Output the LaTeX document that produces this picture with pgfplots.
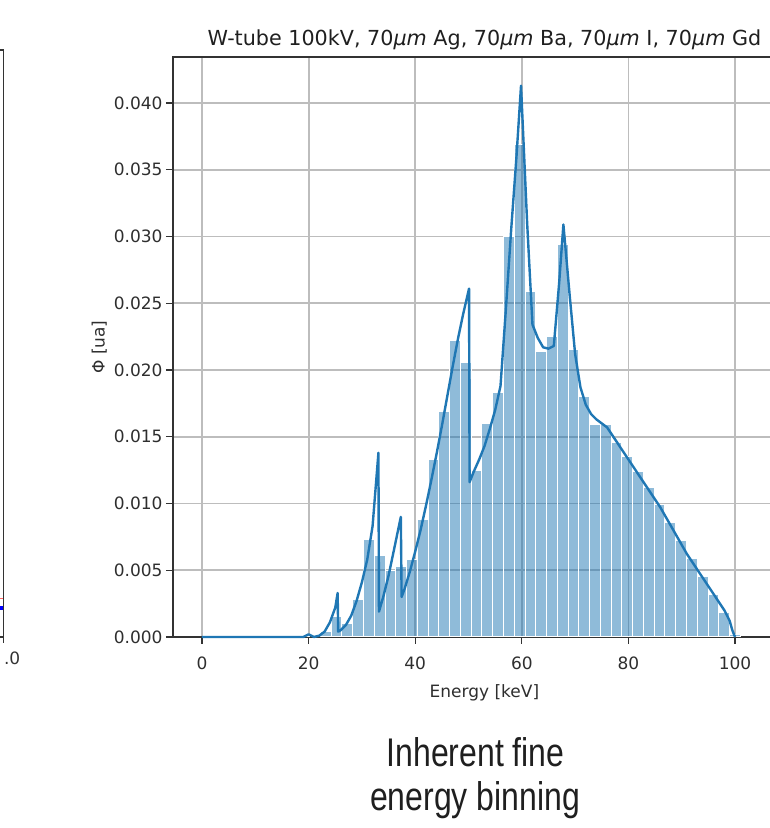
\documentclass[border=0pt]{standalone}
\usepackage{pgfplots}
\pgfplotsset{compat=1.18}
\usepackage{fontspec}
\setmainfont{DejaVu Sans}
\newfontfamily\condfont[FakeStretch=0.8]{Liberation Sans}
\definecolor{c1}{HTML}{1F77B4}
\definecolor{spine}{HTML}{333333}
\definecolor{gridc}{HTML}{BDBDBD}

\pgfplotstableread{
x y
0 0
19 0
20 0.0002
21 0
22 0.0001
23 0.0004
24 0.0011
25 0.0022
25.45 0.0033
25.55 0.0004
26 0.0005
27 0.0009
28 0.0016
29 0.0027
30 0.0041
31 0.0058
32 0.0083
33.1 0.0138
33.2 0.0019
34 0.0030
35 0.0046
36 0.0065
37.3 0.0090
37.45 0.0030
38 0.0036
39 0.0049
40 0.0064
41 0.0080
42 0.0098
43 0.0117
44 0.0137
45 0.0158
46 0.0180
47 0.0202
48 0.0223
49 0.0242
50.1 0.0261
50.2 0.0116
51 0.0124
52 0.0133
53 0.0143
54 0.0156
55 0.0170
56 0.0188
57 0.0245
58 0.0305
59 0.0360
59.85 0.0413
61 0.0310
62 0.0234
63 0.0224
64 0.0217
65 0.0216
66 0.0218
67 0.0265
67.8 0.0309
69 0.0255
70 0.0212
71 0.0187
72 0.0174
73 0.0167
74 0.0163
75 0.0160
76 0.0157
77 0.0151
78 0.0145
79 0.0139
80 0.0133
81 0.0127
82 0.0121
83 0.0115
84 0.0109
85 0.0103
86 0.0097
87 0.0090
88 0.0083
89 0.0076
90 0.0069
91 0.0062
92 0.0056
93 0.0050
94 0.0044
95 0.0038
96 0.0032
97 0.0026
98 0.0020
99 0.0012
99.5 0.0005
100 0
}\spectrum

\pgfplotstableread{
x y
19.19 0.0001
23.23 0.0004
25.25 0.0015
27.27 0.0010
29.29 0.0028
31.31 0.0073
33.33 0.0061
35.35 0.0050
37.37 0.0053
39.39 0.0058
41.41 0.0088
43.43 0.0133
45.45 0.0169
47.47 0.0222
49.49 0.0206
51.51 0.0125
53.53 0.0160
55.55 0.0183
57.57 0.0300
59.59 0.0369
61.61 0.0259
63.63 0.0214
65.65 0.0225
67.67 0.0294
69.69 0.0215
71.71 0.0180
73.73 0.0159
75.75 0.0159
77.77 0.0146
79.79 0.0135
81.81 0.0124
83.83 0.0112
85.85 0.0099
87.87 0.0086
89.89 0.0072
91.91 0.0059
93.93 0.0045
95.95 0.0032
97.97 0.0018
99.99 0.0002
}\bins

\begin{document}
\begin{tikzpicture}[x=1pt,y=1pt]
% fragment of the neighbouring panel
\begin{axis}[
  at={(3.5pt,191pt)}, anchor=south east, scale only axis,
  width=400pt, height=587pt,
  xmin=0, xmax=1, ymin=0, ymax=1,
  xtick={1}, xticklabels={.0}, ytick=\empty, xtick pos=bottom,
  xticklabel style={anchor=north west, xshift=-3pt, yshift=-5pt},
  axis line style={spine, line width=1.5pt},
  tick align=outside, major tick length=6pt,
  tick style={spine, line width=1.2pt},
  tick label style={font=\fontsize{17}{20}\selectfont, text=black!80},
]
\addplot[blue, line width=4pt] coordinates {(0.97,0.05) (1,0.05)};
\addplot[red!60, line width=1pt] coordinates {(0.97,0.066) (1,0.066)};
\end{axis}

\begin{axis}[
  at={(173pt,191pt)}, anchor=south west, scale only axis,
  width=622.8pt, height=580pt,
  xmin=-5.44, xmax=111.4, ymin=0, ymax=0.04345,
  clip=false,
  xtick={0,20,40,60,80,100},
  ytick={0,0.005,0.01,0.015,0.02,0.025,0.03,0.035,0.04},
  xtick pos=bottom, ytick pos=left,
  scaled y ticks=false,
  yticklabel style={/pgf/number format/.cd, fixed, fixed zerofill, precision=3},
  xticklabel style={yshift=-9pt},
  /pgf/number format/assume math mode=true,
  grid=major, grid style={gridc, line width=1.8pt},
  axis line style={spine, line width=1.6pt},
  tick align=outside, major tick length=7pt,
  tick style={spine, line width=1.3pt},
  tick label style={font=\fontsize{17}{20}\selectfont, text=black!82},
  title={W-tube 100kV, 70\textit{μm} Ag, 70\textit{μm} Ba, 70\textit{μm} I, 70\textit{μm} Gd},
  title style={font=\fontsize{20.7}{24}\selectfont, text=black!88, yshift=-2pt},
  xlabel={Energy [keV]}, ylabel={Φ [ua]},
  xlabel style={yshift=-8pt},
  label style={font=\fontsize{17}{20}\selectfont, text=black!82},
]
\addplot[ybar, bar width=2.02, bar shift=0pt, fill=c1, fill opacity=0.5,
  draw=white, line width=1pt] table[x=x, y=y] {\bins};
\addplot[c1, line width=2.4pt, line join=round, mark=none] table[x=x, y=y] {\spectrum};
\end{axis}

\node[anchor=base, font=\condfont\fontsize{40}{44}\selectfont, text=black!88] at (475.5pt, 61pt) {Inherent fine};
\node[anchor=base, font=\condfont\fontsize{40}{44}\selectfont, text=black!88] at (475pt, 17pt) {energy binning};

\pgfresetboundingbox
\path[use as bounding box] (0,0) rectangle (770pt,828pt);
\end{tikzpicture}
\end{document}
